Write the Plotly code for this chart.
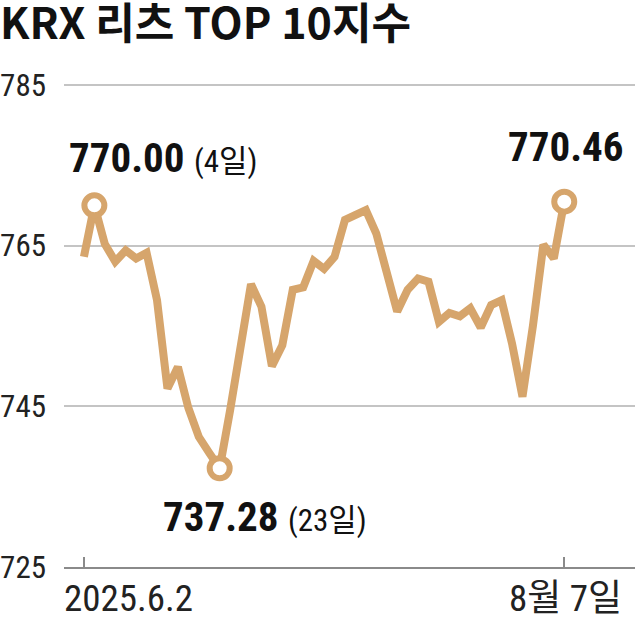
import plotly.graph_objects as go

title_text = "KRX 리츠 TOP 10지수"

dates = (
    ["2025-06-%02d" % d for d in [2, 4, 5, 9, 10, 11, 12, 13, 16, 17, 18, 19, 20, 23, 24, 25, 26, 27, 30]]
    + ["2025-07-%02d" % d for d in [1, 2, 3, 4, 7, 8, 9, 10, 11, 14, 15, 16, 17, 18, 21, 22, 23, 24, 25, 28, 29, 30, 31]]
    + ["2025-08-%02d" % d for d in [1, 4, 5, 6, 7]]
)

values = [
    763.6, 770.00, 765.2, 763.0, 764.4, 763.4, 764.1, 758.2, 747.2, 749.9,
    744.8, 741.2, 739.2, 737.28, 744.5, 752.6, 760.2, 757.4, 750.0, 752.6,
    759.5, 759.8, 763.1, 762.1, 763.6, 768.2, 768.8, 769.4, 766.5, 762.0,
    756.8, 759.5, 760.9, 760.5, 755.5, 756.6, 756.2, 757.2, 754.8, 757.6,
    758.2, 752.8, 746.2, 755.0, 765.1, 763.4, 770.46,
]

y_ticks = [725, 745, 765, 785]
x_tick_dates = ["2025-06-02", "2025-08-07"]
x_tick_labels = ["2025.6.2", "8월 7일"]

hl_dates = ["2025-06-04", "2025-06-23", "2025-08-07"]
hl_values = [770.00, 737.28, 770.46]
hl_days = ["4일", "23일", ""]

LINE = "#D6A56C"
NUM_FONT = "Liberation Sans Narrow, Roboto Condensed, Noto Sans CJK KR, Noto Sans"
KR_FONT = "Noto Sans CJK KR"

fig = go.Figure()
fig.add_trace(go.Scatter(
    x=dates, y=values, mode="lines",
    line=dict(color=LINE, width=8, shape="linear"),
    cliponaxis=False, hoverinfo="skip", showlegend=False,
))
fig.add_trace(go.Scatter(
    x=hl_dates, y=hl_values, mode="markers",
    marker=dict(size=20, color="white", line=dict(color=LINE, width=6)),
    cliponaxis=False, hoverinfo="skip", showlegend=False,
))

n = len(dates)
spacing = (564 - 82) / (n - 1)
r0 = -(82 - 62) / spacing
r1 = r0 + 573 / spacing

px_per_unit = (567 - 85) / 60.0
y_top = 785.6
t_margin = round(85 - (y_top - 785) * px_per_unit)

fig.update_layout(
    width=635, height=617,
    margin=dict(l=62, r=0, t=t_margin, b=50),
    paper_bgcolor="white", plot_bgcolor="white",
    title=dict(
        text="<b>%s</b>" % title_text,
        x=0.0, xref="container", xanchor="left",
        y=1 - 24 / 617, yref="container", yanchor="middle",
        font=dict(family=KR_FONT, size=43, color="#111"),
        pad=dict(l=0, t=0, b=0, r=0),
    ),
    xaxis=dict(
        type="category", range=[r0, r1],
        showgrid=False, zeroline=False,
        showline=True, linecolor="#8a8a8a", linewidth=1.5,
        ticks="inside", ticklen=10, tickwidth=1.5, tickcolor="#8a8a8a",
        tickvals=x_tick_dates, ticktext=["", ""],
        showticklabels=False,
    ),
    yaxis=dict(
        range=[725, y_top], tickvals=y_ticks,
        showgrid=True, gridcolor="#c4c4c4", gridwidth=1.5,
        zeroline=False, showline=False, ticks="",
        ticklabelstandoff=17,
        tickfont=dict(family=NUM_FONT, size=31, color="#222"),
    ),
)

# x tick labels
fig.add_annotation(x=x_tick_dates[0], y=0, yref="paper", text=x_tick_labels[0],
                   showarrow=False, xanchor="left", yanchor="middle", xshift=-22, yshift=-31,
                   font=dict(family=NUM_FONT, size=37, color="#222"))
fig.add_annotation(x=x_tick_dates[1], y=0, yref="paper", text=x_tick_labels[1],
                   showarrow=False, xanchor="center", yanchor="middle", xshift=1, yshift=-31,
                   font=dict(family=NUM_FONT, size=37, color="#222"))

# highlight labels
def lab(v, day):
    s = "<b>%.2f</b>" % v
    if day:
        s += " <span style='font-size:31px'>(%s)</span>" % day
    return s

fig.add_annotation(x=hl_dates[0], y=hl_values[0], text=lab(hl_values[0], hl_days[0]),
                   showarrow=False, xanchor="left", yanchor="middle", xshift=-27, yshift=47,
                   font=dict(family=NUM_FONT, size=41, color="#111"))
fig.add_annotation(x=hl_dates[1], y=hl_values[1], text=lab(hl_values[1], hl_days[1]),
                   showarrow=False, xanchor="left", yanchor="middle", xshift=-59, yshift=-49,
                   font=dict(family=NUM_FONT, size=41, color="#111"))
fig.add_annotation(x=hl_dates[2], y=hl_values[2], text=lab(hl_values[2], hl_days[2]),
                   showarrow=False, xanchor="center", yanchor="middle", xshift=2, yshift=55,
                   font=dict(family=NUM_FONT, size=41, color="#111"))

fig.write_html("out.html", config={"displayModeBar": False},
               post_script="document.body.style.margin='0px';")
